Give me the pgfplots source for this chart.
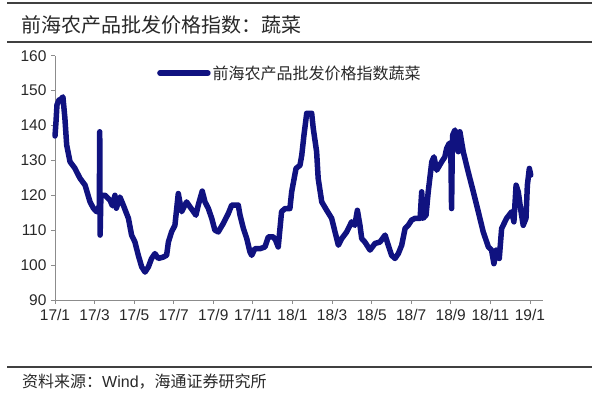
\documentclass[border=0pt]{standalone}
\usepackage{fontspec}
\usepackage{pgfplots}
\pgfplotsset{compat=1.18}
\setmainfont{Liberation Sans}
\setsansfont{Liberation Sans}
\newfontfamily\cjk{Noto Sans CJK SC}
\definecolor{navy}{RGB}{16,18,128}
\definecolor{rulec}{RGB}{64,64,64}
\definecolor{axisc}{RGB}{140,140,140}
\definecolor{txt}{RGB}{40,40,40}
\begin{document}
\begin{tikzpicture}
\useasboundingbox (0pt,0pt) rectangle (600pt,395pt);
\draw[rulec, line width=1.4pt] (7pt,392pt) -- (592pt,392pt);
\draw[rulec, line width=1.4pt] (7pt,353pt) -- (592pt,353pt);
\draw[rulec, line width=1.4pt] (7pt,28pt) -- (592pt,28pt);
\node[anchor=west, inner sep=0pt, text=txt] at (21pt,370pt) {\cjk\fontsize{20}{24}\selectfont 前海农产品批发价格指数：蔬菜};
\node[anchor=west, inner sep=0pt, text=txt] at (22pt,13pt) {\fontsize{16}{19}\selectfont{\cjk 资料来源：}Wind{\cjk ，海通证券研究所}};
\begin{axis}[
  at={(55pt,95pt)}, anchor=south west,
  scale only axis, width=488pt, height=244.3pt,
  xmin=0, xmax=24.66, ymin=90, ymax=160,
  axis x line*=bottom, axis y line*=left,
  axis line style={axisc, line width=0.8pt, -},
  xtick={0,2,...,24},
  xticklabels={17/1,17/3,17/5,17/7,17/9,17/11,18/1,18/3,18/5,18/7,18/9,18/11,19/1},
  ytick={90,100,...,160},
  tick style={axisc, line width=0.8pt},
  tick align=outside, major tick length=4pt,
  /pgf/number format/assume math mode=true,
  ticklabel style={font=\fontsize{15.5}{18}\selectfont, text=txt},
  yticklabel style={xshift=-1pt},
  xticklabel style={yshift=-2pt},
  legend image code/.code={\draw[#1] (0pt,0pt) -- (48pt,0pt);},
  legend style={draw=none, fill=none, at={(0.209,0.929)}, anchor=west, inner sep=0pt,
     font=\cjk\fontsize{16}{19}\selectfont, text=txt},
  clip=false,
]
\addplot[navy, line width=5.5pt, line join=round, line cap=round] coordinates {
(0.0,137) (0.05,141) (0.1,145.9) (0.2,147.3) (0.3,147.5) (0.4,148.2) (0.5,142.1) (0.59,134.4)
(0.76,129.6) (1.0,127.8) (1.26,124.9) (1.52,122.9) (1.77,118.1) (1.94,116.3) (2.1,115.3)
(2.2,116.5) (2.24,117) (2.26,138.2) (2.28,108.6) (2.32,120) (2.53,120) (2.78,118.6) (2.9,117)
(3.03,120) (3.1,116.3) (3.2,118) (3.28,119.5) (3.45,117.2) (3.71,113.4) (3.87,108.6)
(4.04,106.6) (4.21,102.8) (4.38,99.5) (4.55,98) (4.72,99.5) (4.88,101.9) (5.05,103.3)
(5.22,101.9) (5.47,102.3) (5.64,102.8) (5.73,106.6) (5.89,109.5) (6.06,111.4) (6.23,120.5)
(6.4,115.3) (6.65,118.1) (6.82,116.7) (6.95,115.7) (7.12,114.3) (7.24,117.2) (7.44,121.2)
(7.58,118.1) (7.75,116.2) (7.92,113.4) (8.08,110) (8.25,109.5) (8.5,111.9) (8.76,114.8)
(8.93,117.2) (9.26,117.2) (9.35,114.3) (9.52,110.5) (9.69,107.6) (9.85,103.8) (9.94,102.8)
(10.1,104.7) (10.36,104.7) (10.61,105.2) (10.78,108.1) (11.03,108.1) (11.15,107.1)
(11.28,105.2) (11.45,115.3) (11.62,116.2) (11.87,116.2) (11.96,121) (12.18,127.7)
(12.38,128.6) (12.47,131.5) (12.58,137.2) (12.72,143.5) (12.97,143.5) (13.05,139.2)
(13.22,132.5) (13.3,124.8) (13.48,118.1) (13.73,115.7) (13.98,113.4) (14.15,109.5)
(14.32,105.7) (14.49,107.6) (14.74,109.5) (14.99,112.4) (15.15,111.4) (15.28,115.7)
(15.41,111.4) (15.5,107.6) (15.66,106.6) (15.92,104.3) (16.17,106.2) (16.42,106.6)
(16.68,108.6) (16.84,105.7) (17.01,102.8) (17.18,101.9) (17.35,103.3) (17.52,105.7)
(17.69,110.5) (17.85,111.4) (18.02,112.9) (18.19,113.4) (18.45,113.4) (18.53,121)
(18.6,113.4) (18.75,114.3) (18.86,121) (19.04,129.6) (19.15,131) (19.29,127.2) (19.54,129.6)
(19.7,131) (19.79,133.4) (19.92,134.9) (20.0,134) (20.04,116.2) (20.08,135) (20.1,137.3)
(20.21,138.7) (20.38,132.5) (20.46,138.2) (20.63,132.5) (20.88,126.7) (21.14,121)
(21.39,115.3) (21.64,109.5) (21.9,105.2) (22.06,104.3) (22.18,100.4) (22.3,104.3)
(22.45,101.9) (22.57,110.5) (22.82,113.4) (23.08,115.3) (23.19,112.4) (23.3,122.9)
(23.41,121) (23.55,115.3) (23.66,111.4) (23.8,113.4) (23.87,122.9) (23.97,127.7) (24.04,125.8)
};
\addlegendentry{前海农产品批发价格指数蔬菜}
\end{axis}
\end{tikzpicture}
\end{document}
